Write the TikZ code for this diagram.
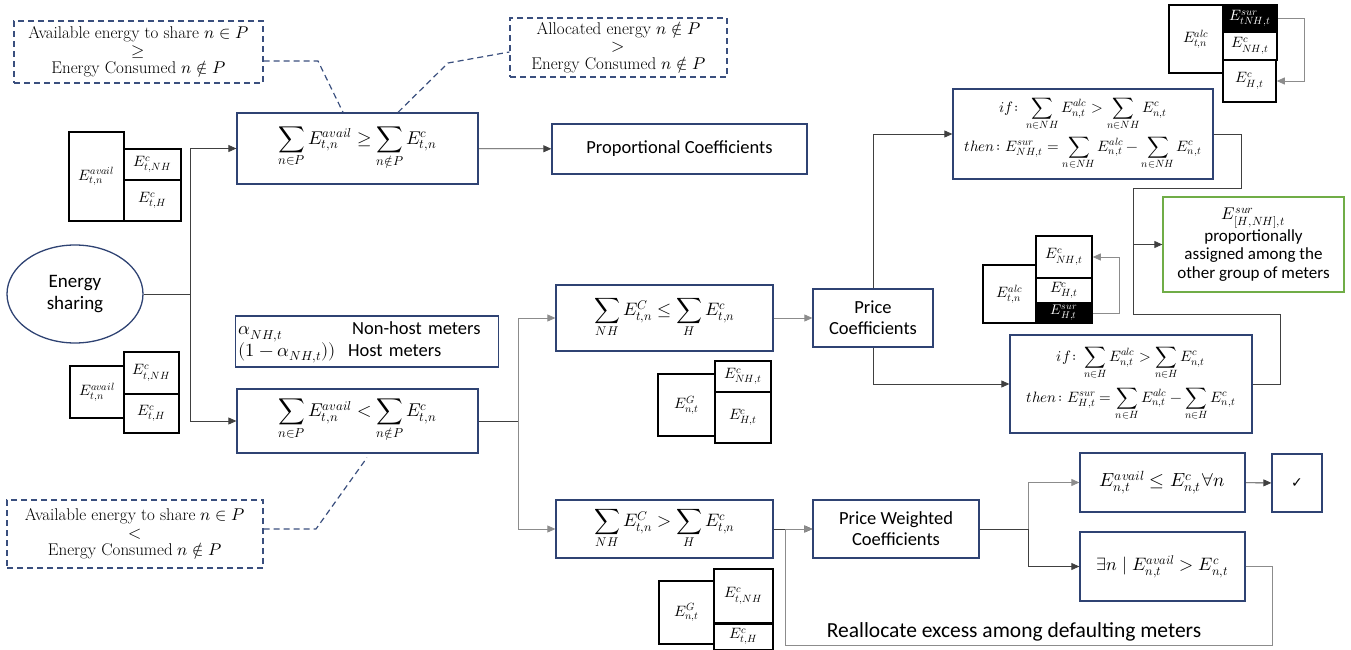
\documentclass[tikz,border=0pt]{standalone}
\usepackage{fontspec}
\usepackage{unicode-math}
\setmathfont{Latin Modern Math}
\newfontfamily\calib{Carlito}
\newfontfamily\dejavu{DejaVu Sans}
\usetikzlibrary{arrows.meta,shapes.geometric,positioning,calc}
\definecolor{boxblue}{HTML}{2F4373}
\definecolor{dashblue}{HTML}{3A4F7E}
\definecolor{boxgreen}{HTML}{70AD47}
\tikzset{
  bbox/.style={draw=boxblue, line width=1.3pt, inner sep=2pt, align=center, font=\calib\fontsize{18.5}{21}\selectfont},
  mbox/.style={bbox, font=\fontsize{18.5}{21}\selectfont},
  ibox/.style={bbox, font=\fontsize{15}{17}\selectfont},
  dbox/.style={draw=dashblue, line width=1.2pt, dash pattern=on 6pt off 4pt, align=center, inner sep=1pt, font=\fontsize{17}{17.5}\selectfont},
  cell/.style={draw=black, line width=1.5pt, inner sep=0pt, font=\fontsize{15}{16}\selectfont},
  blk/.style={cell, fill=black, text=white},
  link/.style={draw=black!75, line width=0.8pt},
  linkg/.style={draw=black!45, line width=0.8pt},
  dlink/.style={draw=dashblue, line width=1.2pt, dash pattern=on 6pt off 4pt},
  >={Triangle[length=8pt,width=7pt]}
}
\begin{document}
\begin{tikzpicture}[x=1pt,y=-1pt]
\useasboundingbox (0,0) rectangle (1351,650);

% notes
\node[dbox, minimum width=249, minimum height=62] (dashTL) at (138.5,52) {Available energy to share $n\in P$\\$\geq$\\Energy Consumed $n\notin P$};
\node[dbox, minimum width=217, minimum height=59] (dashTR) at (618.5,47.5) {Allocated energy $n\notin P$\\$>$\\Energy Consumed $n\notin P$};
\node[dbox, minimum width=256, minimum height=68] (dashBL) at (135,534) {Available energy to share $n\in P$\\$<$\\Energy Consumed $n\notin P$};

% main flow
\node[ellipse, draw=boxblue, line width=1.3pt, minimum width=136, minimum height=98, align=center, font=\calib\fontsize{19}{22}\selectfont] (share) at (75,294) {Energy\\sharing};
\node[mbox, minimum width=241, minimum height=71] (sumGe) at (357.5,148.5) {$\displaystyle\sum_{n\in P}E^{avail}_{t,n}\geq\sum_{n\notin P}E^{c}_{t,n}$};
\node[mbox, minimum width=241, minimum height=64] (sumLt) at (357.5,421) {$\displaystyle\sum_{n\in P}E^{avail}_{t,n}<\sum_{n\notin P}E^{c}_{t,n}$};
\node[bbox, minimum width=255, minimum height=50] (prop) at (679.5,149) {Proportional Coefficients};
\node[bbox, minimum width=263, minimum height=51, inner sep=2pt, text width=257, align=left] (alpha) at (367,341.5) {\begin{tabular}{@{}l@{\hspace{12pt}}l@{}}$\alpha_{NH,t}$ & \hspace{4pt}Non-host meters\\$(1-\alpha_{NH,t}))$ & Host meters\end{tabular}};
\node[mbox, minimum width=217, minimum height=66, font=\fontsize{18}{21}\selectfont] (nhLe) at (664.5,318) {$\displaystyle\sum_{NH}E^{C}_{t,n}\leq\sum_{H}E^{c}_{t,n}$};
\node[mbox, minimum width=217, minimum height=58, font=\fontsize{18}{21}\selectfont] (nhGt) at (664.5,529) {$\displaystyle\sum_{NH}E^{C}_{t,n}>\sum_{H}E^{c}_{t,n}$};
\node[bbox, minimum width=120, minimum height=58] (price) at (873,318) {Price\\Coefficients};
\node[bbox, minimum width=166, minimum height=58] (pwc) at (896,529) {Price Weighted\\Coefficients};
\node[ibox, minimum width=260, minimum height=90] (ifNH) at (1083,134) {$\displaystyle if\colon\sum_{n\in NH}E^{alc}_{n,t}>\sum_{n\in NH}E^{c}_{n,t}$\\[5pt]$\displaystyle then\colon E^{sur}_{NH,t}=\sum_{n\in NH}E^{alc}_{n,t}-\sum_{n\in NH}E^{c}_{n,t}$};
\node[ibox, minimum width=242, minimum height=98] (ifH) at (1131,384) {$\displaystyle if\colon\sum_{n\in H}E^{alc}_{n,t}>\sum_{n\in H}E^{c}_{n,t}$\\[7pt]$\displaystyle then\colon E^{sur}_{H,t}=\sum_{n\in H}E^{alc}_{n,t}-\sum_{n\in H}E^{c}_{n,t}$};
\node[bbox, draw=boxgreen, minimum width=181, minimum height=95, font=\calib\fontsize{17}{18.5}\selectfont] (green) at (1253.5,244.5) {$E^{sur}_{[H,NH],t}$\\proportionally\\assigned among the\\other group of meters};
\node[mbox, minimum width=165, minimum height=59, font=\fontsize{19}{21}\selectfont] (leq) at (1162.5,482.5) {$E^{avail}_{n,t}\leq E^{c}_{n,t}\forall n$};
\node[mbox, minimum width=165, minimum height=69, font=\fontsize{18}{21}\selectfont] (exists) at (1162.5,566.5) {$\exists n\mid E^{avail}_{n,t}>E^{c}_{n,t}$};
\node[bbox, minimum width=50, minimum height=58, font=\dejavu\fontsize{14}{16}\selectfont] (chk) at (1297,483) {✓};
\node[font=\calib\fontsize{21.5}{24}\selectfont] (realloc) at (1014,632) {Reallocate excess among defaulting meters};

% energy blocks
\node[cell, minimum width=55, minimum height=89] (s1a) at (96.5,176.5) {$E^{avail}_{t,n}$};
\node[cell, minimum width=57, minimum height=31] (s1b) at (152.5,164.5) {$E^{c}_{t,NH}$};
\node[cell, minimum width=57, minimum height=41] (s1c) at (152.5,200.5) {$E^{c}_{t,H}$};

\node[cell, minimum width=54, minimum height=52] (s2a) at (97,392) {$E^{avail}_{t,n}$};
\node[cell, minimum width=55, minimum height=42] (s2b) at (151.5,373) {$E^{c}_{t,NH}$};
\node[cell, minimum width=55, minimum height=39] (s2c) at (151.5,413.5) {$E^{c}_{t,H}$};

\node[cell, minimum width=57, minimum height=62] (s3a) at (686.5,405) {$E^{G}_{n,t}$};
\node[cell, minimum width=56, minimum height=31] (s3b) at (743,376.5) {$E^{c}_{NH,t}$};
\node[cell, minimum width=56, minimum height=51] (s3c) at (743,417.5) {$E^{c}_{H,t}$};

\node[cell, minimum width=55, minimum height=63] (s4a) at (686.5,612.5) {$E^{G}_{n,t}$};
\node[cell, minimum width=59, minimum height=54] (s4b) at (743.5,596) {$E^{c}_{t,NH}$};
\node[cell, minimum width=59, minimum height=26, anchor=north] (s4c) at (743.5,623) {$E^{c}_{t,H}$};

\node[cell, minimum width=54, minimum height=68] (s5a) at (1196,39) {$E^{alc}_{t,n}$};
\node[blk, minimum width=54, minimum height=27] (s5s) at (1250,18.5) {$E^{sur}_{tNH,t}$};
\node[cell, minimum width=54, minimum height=28] (s5nh) at (1250,46) {$E^{c}_{NH,t}$};
\node[cell, minimum width=53, minimum height=42] (s5h) at (1249.5,81) {$E^{c}_{H,t}$};

\node[cell, minimum width=53, minimum height=58] (s6a) at (1009.5,294) {$E^{alc}_{t,n}$};
\node[cell, minimum width=56, minimum height=42] (s6nh) at (1064,257) {$E^{c}_{NH,t}$};
\node[cell, minimum width=56, minimum height=25] (s6h) at (1064,290.5) {$E^{c}_{H,t}$};
\node[blk, minimum width=56, minimum height=20, font=\fontsize{14}{15}\selectfont] (s6s) at (1064,313) {$E^{sur}_{H,t}$};

% connectors
\coordinate (jL) at (190,294);
\draw[link] (share) -- (jL);
\draw[link,->] (jL) |- (sumGe);
\draw[link,->] (jL) |- (sumLt);
\draw[link,->] (sumGe) -- (prop);
\coordinate (jM) at (518,421);
\draw[link] (sumLt) -- (jM);
\draw[linkg,->] (jM) |- (nhLe);
\draw[linkg,->] (jM) |- (nhGt);
\draw[linkg,->] (nhLe) -- (price);
\draw[link,->] (price) |- (ifNH);
\draw[link,->] (price) |- (ifH);
\draw[link,->] (nhGt) -- (pwc);
\coordinate (jR) at (1028,529);
\draw[link] (pwc) -- (jR);
\draw[linkg,->] (jR) |- (leq);
\draw[link,->] (jR) |- (exists);
\draw[link,->] (leq) -- (chk);
\coordinate (loopR) at (1272,645);
\coordinate (loopL) at (785,645);
\draw[linkg,->] (exists) -| (loopR) -- (loopL) |- (pwc);

\coordinate (kA) at (1241,188);
\coordinate (kTop) at (1133,188);
\coordinate (kBot) at (1133,314);
\coordinate (kB) at (1280,314);
\draw[link] (ifNH) -| (kA) -- (kTop) -- (kBot);
\draw[link] (ifH) -| (kB) -- (kBot);
\draw[link,->] (kTop |- green) -- (green);

\coordinate (s5k) at (1304,18.5);
\draw[linkg,->] (s5s) -- (s5k) |- (s5h);
\coordinate (s6k) at (1119,313);
\draw[linkg,->] (s6s) -- (s6k) |- (s6nh);

% dashed notes
\coordinate (dA) at (318,61);
\draw[dlink] ([yshift=-9]dashTL.east) -- (dA) -- ([xshift=-14.5]sumGe.north);
\coordinate (dB) at (448,63);
\draw[dlink] ([xshift=40.5]sumGe.north) -- (dB) -- ([yshift=-4.5]dashTR.west);
\coordinate (dC) at (316,529);
\draw[dlink] ([yshift=5]dashBL.east) -- (dC) -- ([xshift=9.5,yshift=-4]sumLt.south);
\end{tikzpicture}
\end{document}
